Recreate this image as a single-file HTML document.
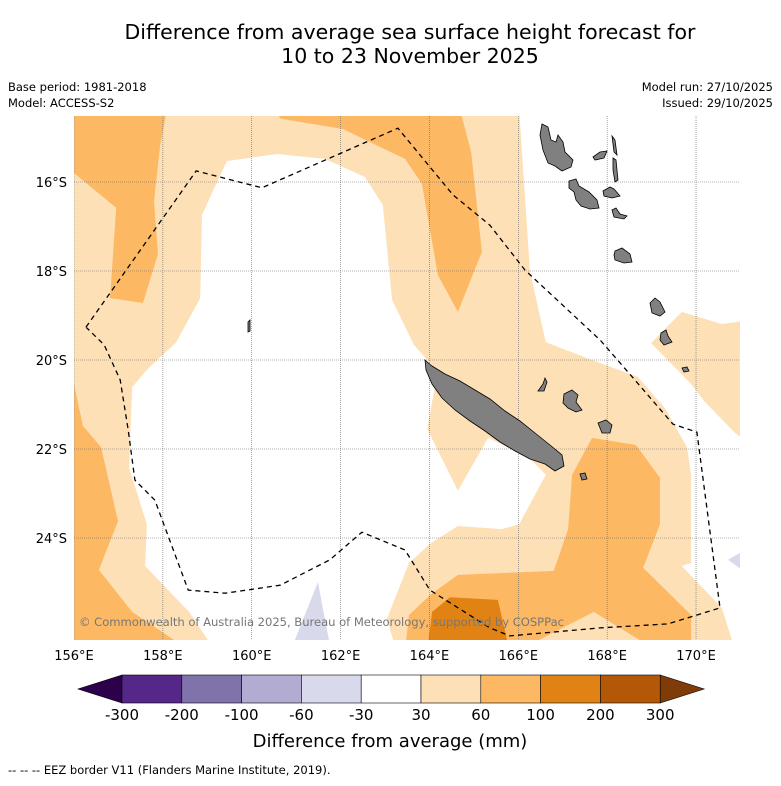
<!DOCTYPE html>
<html><head><meta charset="utf-8"><style>
html,body{margin:0;padding:0;background:#fff;}
body{width:781px;height:781px;overflow:hidden;font-family:"Liberation Sans","DejaVu Sans",sans-serif;}
svg text{font-family:"DejaVu Sans","Liberation Sans",sans-serif;}
</style></head><body>
<svg id="chart" width="781" height="781" viewBox="0 0 781 781" xmlns="http://www.w3.org/2000/svg">
<text x="410" y="39" font-size="20.5" text-anchor="middle" fill="#000">Difference from average sea surface height forecast for</text>
<text x="410" y="63" font-size="20.5" text-anchor="middle" fill="#000">10 to 23 November 2025</text>
<text x="8" y="91" font-size="11.5">Base period: 1981-2018</text>
<text x="8" y="107" font-size="11.5">Model: ACCESS-S2</text>
<text x="773" y="91" font-size="11.5" text-anchor="end">Model run: 27/10/2025</text>
<text x="773" y="107" font-size="11.5" text-anchor="end">Issued: 29/10/2025</text>
<defs><clipPath id="mapclip"><rect x="74" y="116" width="666" height="524"/></clipPath></defs>
<g id="map" clip-path="url(#mapclip)"></g>
<g id="axes"></g>
<g id="cbar"></g>
<text x="390" y="747" font-size="18" text-anchor="middle">Difference from average (mm)</text>
<text x="8" y="774" font-size="11.5">--  --  -- EEZ border V11 (Flanders Marine Institute, 2019).</text>
</svg>
<script>
const NS="http://www.w3.org/2000/svg";
// axis config
const lonTicks=[156,158,160,162,164,166,168,170];
const latTicks=[16,18,20,22,24];
// contour polygons [lon, lat(S)]
const whiteCentral=[[159.44,15.53],[160.57,15.37],[161.65,15.48],[162.55,15.89],[162.95,16.52],[163.16,18.65],[163.65,19.66],[164.15,20.22],[164.15,20.45],[163.95,21.55],[164.64,22.94],[165.32,21.75],[166.22,22.18],[166.62,22.58],[166.02,23.69],[165.63,23.8],[164.64,23.73],[164.04,24.11],[163.54,24.56],[163.04,25.82],[163.25,26.52],[159.17,26.52],[158.59,25.66],[157.6,24.63],[157.64,23.69],[157.24,22.43],[157.31,20.61],[157.64,20.22],[158.3,19.6],[158.84,18.61],[158.88,16.74]];
const whiteEast=[[166.02,14.38],[166.26,18.0],[166.62,19.6],[167.61,19.98],[168.69,20.38],[169.3,21.08],[169.8,21.96],[169.89,22.58],[169.89,24.56],[169.68,24.63],[170.58,25.57],[170.88,26.52],[171.1,26.52],[171.1,21.8],[170.88,21.64],[170.18,20.92],[169.89,20.54],[168.99,19.62],[169.68,18.92],[170.58,19.19],[171.1,19.12],[171.1,14.38]];
const orangeNW=[[156,14.38],[158.09,14.38],[157.94,15.17],[157.8,16.43],[157.89,17.62],[157.55,18.72],[156.81,18.61],[156.95,16.58],[156,15.8]];
const orangeN=[[160.48,14.38],[164.69,14.38],[164.94,15.33],[165.18,17.57],[164.64,18.92],[164.19,18.09],[163.83,16.04],[163.45,15.48],[162.05,14.81],[160.66,14.58]];
const orangeSW=[[156,20.54],[156.2,21.48],[156.61,21.96],[156.99,23.62],[156.56,24.72],[157.31,25.66],[158.59,26.52],[156,26.52]];
const orangeSE=[[167.66,21.75],[168.65,21.91],[169.19,22.65],[169.19,23.69],[168.81,24.67],[169.89,25.73],[169.89,26.52],[169.1,26.52],[167.7,25.66],[166.02,26.52],[163.45,26.52],[163.54,25.73],[164.04,25.26],[164.64,24.83],[166.8,24.74],[167.12,23.8],[167.21,22.58]];
const darkOrangeS=[[164.46,25.33],[165.54,25.39],[165.77,26.4],[163.97,26.4],[164.06,25.66]];
const lavenderS=[[161.49,24.99],[161.76,26.4],[160.93,26.4]];
const lavenderE=[[170.72,24.49],[171.1,24.27],[171.1,24.76]];
const eez=[[156.27,19.26],[158.75,15.75],[160.23,16.13],[163.29,14.79],[164.53,16.29],[165.36,16.97],[166.15,17.98],[167.84,19.55],[168.47,20.27],[169.48,21.44],[170.02,21.62],[170.54,25.57],[169.37,25.93],[167.84,26.02],[165.81,26.2],[165.36,26.02],[164.01,25.17],[163.45,24.27],[162.48,23.87],[161.76,24.49],[160.64,25.06],[159.4,25.24],[158.57,25.17],[157.82,23.15],[157.37,22.7],[157.22,21.57],[157.04,20.45],[156.68,19.66],[156.27,19.26]];
// colorbar
const cbLevels=[-300,-200,-100,-60,-30,30,60,100,200,300];
const cbColors=["#542788","#8073ac","#b2abd2","#d8daeb","#ffffff","#fee0b6","#fdb863","#e08214","#b35806"];
const cbUnder="#2d004b", cbOver="#7f3b08";

const X=lon=>74+(lon-156)*44.43;
const Y=lat=>182+(lat-16)*44.5;
const pts=a=>a.map(p=>X(p[0]).toFixed(1)+","+Y(p[1]).toFixed(1)).join(" ");
const map=document.getElementById("map");
function poly(arr,fill,name){
  const e=document.createElementNS(NS,"polygon");
  e.setAttribute("points",pts(arr));e.setAttribute("fill",fill);
  
  
  map.appendChild(e);
}
const bg=document.createElementNS(NS,"rect");
bg.setAttribute("x",74);bg.setAttribute("y",116);bg.setAttribute("width",666);bg.setAttribute("height",524);bg.setAttribute("fill","#fee0b6");


map.appendChild(bg);
poly(whiteCentral,"#ffffff","contour-white-central");
poly(whiteEast,"#ffffff","contour-white-east");
poly(orangeNW,"#fdb863","contour-60-100-northwest");
poly(orangeN,"#fdb863","contour-60-100-north");
poly(orangeSW,"#fdb863","contour-60-100-southwest");
poly(orangeSE,"#fdb863","contour-60-100-southeast");
poly(darkOrangeS,"#e08214","contour-100-200-south");
poly(lavenderS,"#d8daeb","contour-neg30-neg60-south");
poly(lavenderE,"#d8daeb","contour-neg30-neg60-east");
// gridlines
lonTicks.forEach(l=>{const g=document.createElementNS(NS,"line");g.setAttribute("x1",X(l));g.setAttribute("x2",X(l));g.setAttribute("y1",116);g.setAttribute("y2",640);g.setAttribute("stroke","#666");g.setAttribute("stroke-width","0.6");g.setAttribute("stroke-dasharray","1,1");


map.appendChild(g);});
latTicks.forEach(l=>{const g=document.createElementNS(NS,"line");g.setAttribute("y1",Y(l));g.setAttribute("y2",Y(l));g.setAttribute("x1",74);g.setAttribute("x2",740);g.setAttribute("stroke","#666");g.setAttribute("stroke-width","0.6");g.setAttribute("stroke-dasharray","1,1");


map.appendChild(g);});
// islands (static geography)
const islands=[
"M425,360 L432,366 445,374 460,381 475,390 490,399 505,411 520,421 535,433 550,445 562,455 564,466 555,471 545,464 530,459 515,451 500,442 485,431 470,421 455,410 442,398 432,384 426,370Z",
"M542,124 L548,127 551,140 556,142 558,135 563,142 565,152 573,160 571,167 562,171 555,166 548,163 543,150 540,135Z",
"M593,157 L600,152 607,151 604,158 595,160Z",
"M612,136 L615,140 617,155 614,152Z","M613,158 L616,160 618,180 615,182 613,170Z",
"M569,181 L576,179 579,186 589,192 597,200 599,208 590,209 581,206 576,200 574,192 569,188Z",
"M603,191 L610,187 614,189 620,196 612,198 604,196Z",
"M612,210 L616,208 620,214 627,216 624,219 614,217Z",
"M615,251 L622,248 630,254 632,262 624,263 615,260 614,255Z",
"M650,303 L655,298 660,302 665,312 660,316 652,313Z",
"M661,333 L666,330 668,336 672,342 664,345 660,340Z",
"M682,368 L687,367 689,371 684,372Z",
"M564,394 L572,390 578,395 576,402 582,410 576,412 568,408 563,403Z",
"M538,391 L543,384 545,378 547,382 544,391Z",
"M598,423 L606,420 612,425 610,433 602,433Z",
"M580,474 L585,473 587,479 582,480Z",
"M248,322 L250,320 250,331 248,332Z"];
islands.forEach(d=>{const p=document.createElementNS(NS,"path");p.setAttribute("d",d);p.setAttribute("fill","#808080");p.setAttribute("stroke","#000");p.setAttribute("stroke-width","0.8");


map.appendChild(p);});
// EEZ
const ez=document.createElementNS(NS,"polyline");
ez.setAttribute("points",pts(eez));ez.setAttribute("fill","none");ez.setAttribute("stroke","#000");ez.setAttribute("stroke-width","1.3");ez.setAttribute("stroke-dasharray","5,4");


map.appendChild(ez);
const cp=document.createElementNS(NS,"text");
cp.setAttribute("x",79);cp.setAttribute("y",626);cp.setAttribute("font-size","11.6");cp.setAttribute("fill","#777");
cp.setAttribute("textLength","485");
cp.textContent="© Commonwealth of Australia 2025, Bureau of Meteorology, supported by COSPPac";


map.appendChild(cp);
// tick labels
const axes=document.getElementById("axes");
lonTicks.forEach(l=>{const t=document.createElementNS(NS,"text");t.setAttribute("x",X(l));t.setAttribute("y",660);t.setAttribute("font-size","13");t.setAttribute("text-anchor","middle");t.textContent=l+"°E";


axes.appendChild(t);});
latTicks.forEach(l=>{const t=document.createElementNS(NS,"text");t.setAttribute("x",67);t.setAttribute("y",Y(l)+5);t.setAttribute("font-size","13");t.setAttribute("text-anchor","end");t.textContent=l+"°S";


axes.appendChild(t);});
// colorbar
const cb=document.getElementById("cbar");
const cbX0=122,cbW=59.8,cbY=675,cbH=28;
const tri=(d,f,n)=>{const p=document.createElementNS(NS,"polygon");p.setAttribute("points",d);p.setAttribute("fill",f);p.setAttribute("stroke","#000");p.setAttribute("stroke-width","0.6");


cb.appendChild(p);};
tri(`${cbX0},${cbY} ${cbX0},${cbY+cbH} 78,${cbY+cbH/2}`,cbUnder,"colorbar-under-extension");
const cbEnd=cbX0+cbW*cbColors.length;
tri(`${cbEnd},${cbY} ${cbEnd},${cbY+cbH} ${cbEnd+44},${cbY+cbH/2}`,cbOver,"colorbar-over-extension");
cbColors.forEach((c,i)=>{const r=document.createElementNS(NS,"rect");r.setAttribute("x",cbX0+i*cbW);r.setAttribute("y",cbY);r.setAttribute("width",cbW);r.setAttribute("height",cbH);r.setAttribute("fill",c);r.setAttribute("stroke","#000");r.setAttribute("stroke-width","0.6");


cb.appendChild(r);});
cbLevels.forEach((v,i)=>{const t=document.createElementNS(NS,"text");t.setAttribute("x",cbX0+i*cbW);t.setAttribute("y",720);t.setAttribute("font-size","15");t.setAttribute("text-anchor","middle");t.textContent=v;


cb.appendChild(t);});
</script>
</body></html>
